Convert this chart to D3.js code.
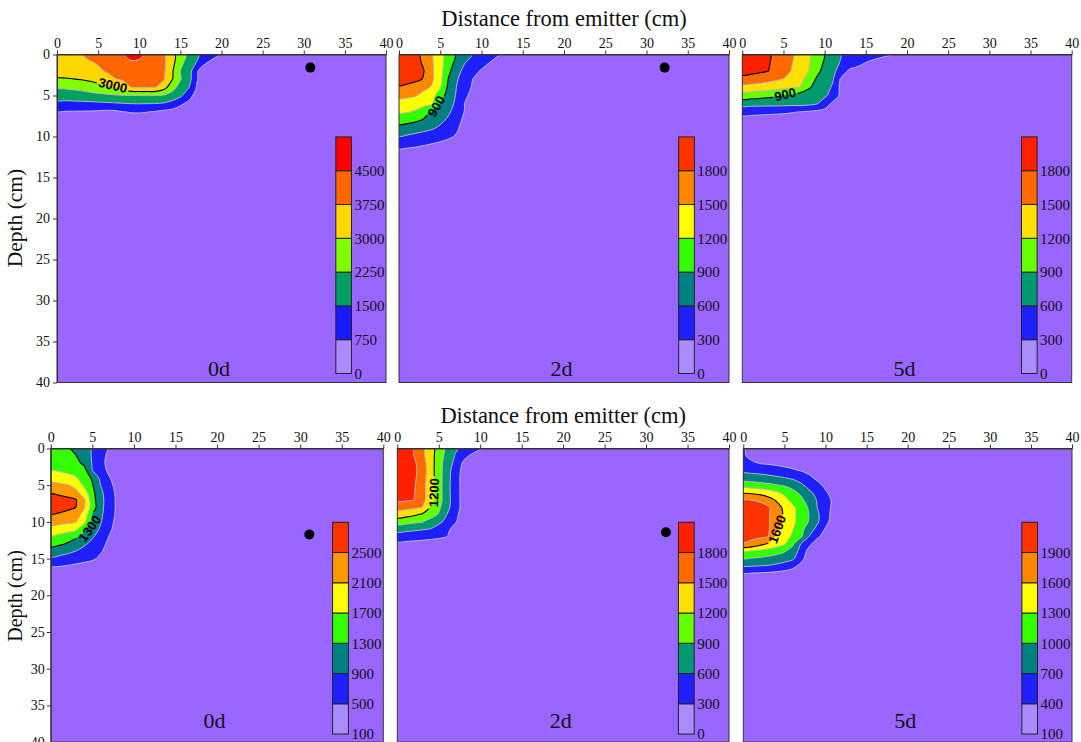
<!DOCTYPE html>
<html><head><meta charset="utf-8">
<script src="https://cdn.jsdelivr.net/npm/d3@7"></script>
<style>body{margin:0;background:#fff}svg{display:block}</style>
</head><body>
<svg id="chart" width="1081" height="742"></svg>
<script>
// ---------------- DATA ----------------
const xTicks = [0,5,10,15,20,25,30,35,40];
const yTicks = [0,5,10,15,20,25,30,35,40];
const panelNames = ["0d","2d","5d","0d","2d","5d"];
const axisTitle = "Distance from emitter (cm)";
const depthTitle = "Depth (cm)";

const levels_top0d = [0,750,1500,2250,3000,3750,4500];
const levels_top2d = [0,300,600,900,1200,1500,1800];
const levels_top5d = [0,300,600,900,1200,1500,1800];
const levels_bot0d = [100,500,900,1300,1700,2100,2500];
const levels_bot2d = [0,300,600,900,1200,1500,1800];
const levels_bot5d = [100,400,700,1000,1300,1600,1900];

// labelled (black) contour levels
const black_top0d = [3000];
const black_top2d = [900,1800];
const black_top5d = [900,1800];
const black_bot0d = [1300,2500];
const black_bot2d = [1200];
const black_bot5d = [1600];

// emitter / sensor dots [distance cm, depth cm]
const dots_top0d = [[30.8,1.6]];
const dots_top2d = [[32.2,1.6]];
const dots_top5d = [];
const dots_bot0d = [[31.1,11.7]];
const dots_bot2d = [[32.4,11.4]];
const dots_bot5d = [];

// field values, rows = depth 0,1,2.. cm ; columns = distance 0,1,2.. cm
const grid_top0d = [
[3600,3650,3700,3720,3900,4050,4200,4350,4470,4620,4600,4400,4100,3850,3200,2700,2050,1700,1000,900,700,500,300],
[3450,3500,3560,3620,3700,3800,3950,4100,4250,4450,4430,4250,4050,3900,3250,2450,1950,1450,800,600,450,350,250],
[3250,3300,3350,3420,3520,3650,3800,3950,4050,4150,4180,4100,3980,3850,3100,2230,1900,800,500,400,300,250,200],
[2920,2950,2990,3050,3150,3300,3500,3720,3850,3950,4000,3980,3900,3800,3050,2300,1800,800,400,300,250,200,150],
[2310,2330,2380,2450,2580,2720,2860,2980,3350,3760,3800,3800,3760,3300,2500,2000,1550,700,350,250,200,150,100],
[1900,1920,1950,1980,2020,2080,2130,2180,2220,2245,2260,2260,2245,2180,2000,1650,1000,500,300,200,150,100,100],
[1250,1260,1280,1300,1320,1350,1380,1420,1460,1495,1510,1495,1480,1420,1200,850,600,400,250,150,100,100,100],
[720,710,700,690,680,640,600,610,730,780,790,760,700,580,520,450,380,300,200,100,100,100,100],
[450,440,430,420,410,400,400,420,460,500,480,450,420,400,350,300,250,200,150,100,100,100,100],
[300,300,290,280,270,260,250,250,260,280,270,250,230,210,200,180,150,120,100,100,100,100,100]
];
const grid_top2d = [
[2050,1980,1880,1710,1519,1292,1071,868,711,574,489,403,317,250,200],
[2050,2000,1900,1756,1533,1296,1043,807,605,500,400,295,230,180,150],
[2050,2000,1920,1810,1550,1300,975,691,517,389,270,200,150,120,100],
[2000,1950,1880,1777,1546,1282,887,626,458,290,220,160,120,100,100],
[1750,1700,1640,1570,1475,1225,831,590,412,260,200,150,100,100,100],
[1570,1550,1520,1422,1291,1050,765,567,344,220,160,120,100,100,100],
[1400,1390,1360,1300,1230,868,711,531,290,200,150,100,100,100,100],
[1240,1220,1155,1005,867,756,644,471,280,200,150,100,100,100,100],
[1015,990,950,879,776,672,547,370,250,180,120,100,100,100,100],
[800,780,740,690,630,544,433,322,230,150,100,100,100,100,100],
[595,560,515,470,420,370,327,282,200,150,100,100,100,100,100],
[400,380,350,315,285,260,240,200,150,100,100,100,100,100,100],
[200,190,180,170,160,150,140,120,100,100,100,100,100,100,100],
[150,150,140,130,120,110,100,100,100,100,100,100,100,100,100]
];
const grid_top5d = [
[2000,1960,1900,1840,1756,1644,1533,1395,1245,1076,895,742,595,548,502,455,408,361,314,260,200,150],
[1980,1940,1880,1830,1748,1633,1517,1379,1236,1050,862,708,573,482,391,295,230,180,150,120,100,100],
[1900,1880,1850,1815,1728,1608,1486,1350,1214,984,809,670,475,250,200,150,120,100,100,100,100,100],
[1710,1690,1650,1600,1550,1495,1389,1278,1118,875,750,625,257,200,150,120,100,100,100,100,100,100],
[1400,1390,1370,1340,1300,1270,1235,1195,943,811,700,565,212,170,130,100,100,100,100,100,100,100],
[1067,1050,1020,980,940,895,850,760,750,700,650,491,220,160,120,100,100,100,100,100,100,100],
[712,705,700,695,695,690,680,690,670,620,462,231,160,120,100,100,100,100,100,100,100,100],
[390,380,370,360,350,340,320,295,270,240,200,160,120,100,100,100,100,100,100,100,100,100],
[200,200,190,180,170,160,150,140,130,120,110,100,100,100,100,100,100,100,100,100,100,100]
];
const grid_bot0d = [
[1450,1420,1350,1200,1033,860,660,460,350,250,150],
[1540,1510,1440,1320,1094,866,637,410,300,200,150],
[1620,1600,1530,1410,1227,875,625,380,280,200,150],
[1690,1670,1610,1560,1450,895,665,430,300,200,150],
[1940,1900,1830,1740,1525,1243,793,527,350,250,150],
[2210,2180,2130,1991,1638,1331,895,604,380,250,150],
[2470,2420,2360,2220,1880,1418,984,671,420,280,150],
[2650,2630,2590,2530,2180,1471,1020,700,430,280,150],
[2620,2600,2570,2510,2150,1529,1009,700,430,280,150],
[2495,2470,2410,2290,1967,1295,967,687,420,280,150],
[2233,2210,2170,2126,1805,1214,929,643,380,250,150],
[1967,1940,1870,1780,1367,1088,847,580,350,230,150],
[1705,1590,1470,1360,1182,947,722,490,300,200,150],
[1414,1360,1269,1115,962,791,609,430,270,180,120],
[1129,1060,980,895,775,650,525,400,250,180,120],
[838,800,750,690,620,550,440,340,230,150,100],
[530,520,480,430,390,350,300,250,180,120,100],
[280,270,260,240,220,200,180,150,120,100,100],
[200,190,180,170,160,150,140,120,100,100,100]
];
const grid_bot2d = [
[2000,1920,1779,1564,1325,1064,825,638,520,420,320,220,150],
[2050,1950,1798,1578,1330,1050,793,580,380,250,170,120,100],
[2080,1980,1860,1642,1343,1024,756,518,250,180,120,100,100],
[2080,1990,1880,1650,1350,1012,738,429,220,150,100,100,100],
[2060,1980,1870,1625,1350,1024,714,420,200,150,100,100,100],
[2040,1960,1840,1615,1342,1026,700,425,200,150,100,100,100],
[2020,1940,1820,1611,1333,1029,706,425,200,150,100,100,100],
[1860,1840,1805,1607,1312,1025,712,425,200,150,100,100,100],
[1615,1600,1560,1495,1179,964,690,425,200,150,100,100,100],
[1350,1310,1250,1159,1023,873,595,369,180,120,100,100,100],
[1033,1000,950,910,787,663,506,319,170,120,100,100,100],
[700,680,650,620,588,468,348,220,150,100,100,100,100],
[460,440,420,400,380,350,305,180,120,100,100,100,100],
[240,230,220,200,180,160,140,120,100,100,100,100,100],
[150,150,140,130,120,110,100,100,100,100,100,100,100]
];
const grid_bot5d = [
[430,300,250,220,200,190,180,170,160,150,140,130,120],
[440,320,290,270,250,230,220,210,200,180,160,140,120],
[480,450,390,370,350,330,310,290,270,250,230,200,150],
[620,610,590,560,520,470,430,390,340,300,260,200,150],
[850,840,820,790,750,710,650,560,450,350,280,200,150],
[1150,1140,1110,1070,1020,970,905,760,600,470,350,250,150],
[1550,1540,1500,1440,1340,1230,1080,940,760,605,430,300,200],
[1895,1890,1850,1720,1570,1400,1200,1080,850,680,500,350,200],
[2050,2040,2010,1940,1730,1530,1360,1170,960,695,512,330,250],
[2060,2050,2020,1940,1750,1563,1375,1188,995,750,515,300,220],
[2060,2050,2020,1940,1740,1547,1370,1180,980,746,480,280,200],
[2050,2040,2010,1950,1660,1474,1316,1092,850,608,370,250,200],
[1980,1970,1950,1915,1545,1410,1260,1060,695,450,280,200,150],
[1880,1820,1700,1565,1450,1335,1067,695,469,250,200,150,120],
[1295,1270,1230,1180,1110,1030,862,600,300,220,150,120,100],
[995,980,955,920,880,830,750,500,250,200,150,100,100],
[727,715,695,680,640,570,470,330,230,150,100,100,100],
[395,390,380,360,340,310,280,240,200,150,100,100,100],
[250,240,230,220,200,180,160,140,120,100,100,100,100]
];

// ---------------- STYLES ----------------
const colors_top0d = ["#9966ff","#1a1aff","#00a060","#80ff00","#ffd700","#ff6600","#ff0000"];
const colors_top2d = ["#9966ff","#2020ff","#008080","#33ff00","#ffff00","#ff8800","#ff3300"];
const colors_top5d = ["#9966ff","#2020ff","#009970","#66ff00","#ffe000","#ff6a00","#ff2000"];
const colors_bot0d = ["#9966ff","#2020ff","#008080","#33ff00","#ffff00","#ff9900","#ff3300"];
const colors_bot2d = ["#9966ff","#2020ff","#009970","#66ff00","#ffe000","#ff6a00","#ff2000"];
const colors_bot5d = ["#9966ff","#2020ff","#008080","#33ff00","#ffff00","#ff8800","#ff3300"];
const cbLowColor = "#ab8cff";
const serif = "'Liberation Serif','Times New Roman',serif";

// layout
const rowsLayout = [
  {y0:54.5, h:328, xs:[57,399,742.3], ws:[329,330,329.4], titleY:26, nameZ:39.2, tickPad:3, ylabY:218, ylabSize:21.5},
  {y0:448.5, h:293.6, xs:[50.8,397.3,743.3], ws:[332.5,331.7,328.7], titleY:423, nameZ:38.1, tickPad:2, ylabY:596, ylabSize:20}
];
const labelLayout = [
  [{text:"3000", x:6.8, z:3.75, a:13}],
  [{text:"900", x:4.5, z:6.3, a:-60}],
  [{text:"900", x:5.2, z:4.85, a:-14}],
  [{text:"1300", x:4.65, z:10.9, a:-55}],
  [{text:"1200", x:4.4, z:6.0, a:-88}],
  [{text:"1600", x:4.1, z:11.0, a:-70}]
];

const panels = [
  {row:0,col:0,levels:levels_top0d,colors:colors_top0d,grid:grid_top0d,black:black_top0d,dots:dots_top0d},
  {row:0,col:1,levels:levels_top2d,colors:colors_top2d,grid:grid_top2d,black:black_top2d,dots:dots_top2d},
  {row:0,col:2,levels:levels_top5d,colors:colors_top5d,grid:grid_top5d,black:black_top5d,dots:dots_top5d},
  {row:1,col:0,levels:levels_bot0d,colors:colors_bot0d,grid:grid_bot0d,black:black_bot0d,dots:dots_bot0d},
  {row:1,col:1,levels:levels_bot2d,colors:colors_bot2d,grid:grid_bot2d,black:black_bot2d,dots:dots_bot2d},
  {row:1,col:2,levels:levels_bot5d,colors:colors_bot5d,grid:grid_bot5d,black:black_bot5d,dots:dots_bot5d}
];

// ---------------- DRAW ----------------
const svg = d3.select("#chart");
const defs = svg.append("defs");
const N = 41;
const lineGen = d3.line().curve(d3.curveCatmullRomClosed.alpha(0.5));

function fullField(grid){
  const fill = d3.min(grid.flat());
  const v = new Array(N*N).fill(fill);
  grid.forEach((row,j)=>row.forEach((val,i)=>{ v[j*N+i]=val; }));
  return v;
}
function geomPath(geom, xs, ys){
  let d = "";
  geom.coordinates.forEach(poly=>poly.forEach(ring=>{
    const pts = ring.slice(0,-1).map(([cx,cy])=>[xs(cx-0.5), ys(cy-0.5)]);
    if (pts.length>2) d += lineGen(pts);
  }));
  return d;
}

rowsLayout.forEach((R,ri)=>{
  svg.append("text").attr("x", (R.xs[1] + R.ws[1]/2)).attr("y", R.titleY)
    .attr("text-anchor","middle").style("font-family",serif).style("font-size","22.5px").attr("fill","#111")
    .text(axisTitle);
  svg.append("text").attr("transform",`translate(22,${R.ylabY}) rotate(-90)`)
    .attr("text-anchor","middle").style("font-family",serif).style("font-size",R.ylabSize+"px").attr("fill","#111")
    .text(depthTitle);
});

panels.forEach((P,pi)=>{
  const R = rowsLayout[P.row];
  const x0 = R.xs[P.col], y0 = R.y0, w = R.ws[P.col], h = R.h;
  const xs = d3.scaleLinear().domain([0,40]).range([0,w]);
  const ys = d3.scaleLinear().domain([0,40]).range([0,h]);
  const g = svg.append("g").attr("transform",`translate(${x0},${y0})`);

  const clipId = "clip"+pi;
  defs.append("clipPath").attr("id",clipId).append("rect").attr("width",w).attr("height",h);

  const plot = g.append("g").attr("clip-path",`url(#${clipId})`);
  plot.append("rect").attr("width",w).attr("height",h).attr("fill",P.colors[0]);

  const values = fullField(P.grid);
  const th = P.levels.slice(1);
  const geoms = d3.contours().size([N,N]).thresholds(th)(values);
  geoms.forEach((gm,k)=>{
    plot.append("path").attr("d",geomPath(gm,xs,ys)).attr("fill",P.colors[k+1]).attr("fill-rule","evenodd");
  });
  geoms.forEach((gm,k)=>{
    if (P.black.includes(gm.value)) return;
    plot.append("path").attr("d",geomPath(gm,xs,ys)).attr("fill","none")
      .attr("stroke","#b8b8b8").attr("stroke-width",1);
  });

  const maskId = "mask"+pi;
  const mask = defs.append("mask").attr("id",maskId).attr("maskUnits","userSpaceOnUse")
    .attr("x",-10).attr("y",-10).attr("width",w+20).attr("height",h+20);
  mask.append("rect").attr("x",-10).attr("y",-10).attr("width",w+20).attr("height",h+20).attr("fill","#fff");
  labelLayout[pi].forEach(L=>{
    const lw = L.text.length*7.6+2;
    mask.append("rect").attr("x",-lw/2).attr("y",-6.5).attr("width",lw).attr("height",13).attr("fill","#000")
      .attr("transform",`translate(${xs(L.x)},${ys(L.z)}) rotate(${L.a})`);
  });
  const blackG = plot.append("g").attr("mask",`url(#${maskId})`);
  geoms.forEach(gm=>{
    if (!P.black.includes(gm.value)) return;
    blackG.append("path").attr("d",geomPath(gm,xs,ys)).attr("fill","none")
      .attr("stroke","#000").attr("stroke-width",1.1);
  });
  labelLayout[pi].forEach(L=>{
    plot.append("text").attr("transform",`translate(${xs(L.x)},${ys(L.z)}) rotate(${L.a})`)
      .attr("text-anchor","middle").attr("dy","0.36em")
      .style("font-family","'Liberation Sans',Arial,sans-serif").style("font-weight","bold").style("font-size","13px")
      .attr("fill","#000").text(L.text);
  });

  plot.selectAll("circle.dot").data(P.dots).enter().append("circle").attr("class","dot")
    .attr("cx",d=>xs(d[0])).attr("cy",d=>ys(d[1])).attr("r",5).attr("fill","#000");

  const cbX0 = 33.9, cbX1 = 35.8, cbTop = 10.05, cbBot = 38.9;
  const bh = (cbBot-cbTop)/P.levels.length;
  P.levels.forEach((lv,k)=>{
    plot.append("rect").attr("x",xs(cbX0)).attr("width",xs(cbX1)-xs(cbX0))
      .attr("y",ys(cbBot-(k+1)*bh)).attr("height",ys(bh)-ys(0))
      .attr("fill",k===0?cbLowColor:P.colors[k]).attr("stroke","#222").attr("stroke-width",1);
    plot.append("text").attr("x",xs(cbX1)+3).attr("y",ys(cbBot-k*bh)).attr("dy","0.35em")
      .style("font-family",serif).style("font-size","15px").attr("fill","#111").text(lv);
  });

  plot.append("text").attr("x",xs(19.7)).attr("y",ys(R.nameZ)).attr("text-anchor","middle")
    .style("font-family",serif).style("font-size","22px").attr("fill","#111").text(panelNames[pi]);

  g.append("rect").attr("width",w).attr("height",h).attr("fill","none").attr("stroke","#333").attr("stroke-width",1);

  const ax = g.append("g").call(d3.axisTop(xs).tickValues(xTicks).tickSize(4).tickSizeOuter(0).tickPadding(3));
  ax.selectAll("text").style("font-family",serif).style("font-size","14px").attr("fill","#111");
  ax.selectAll("line,path").attr("stroke","#333");
  if (P.col===0){
    const ay = g.append("g").call(d3.axisLeft(ys).tickValues(yTicks).tickSize(4).tickSizeOuter(0).tickPadding(R.tickPad));
    ay.selectAll("text").style("font-family",serif).style("font-size","14px").attr("fill","#111");
    ay.selectAll("line,path").attr("stroke","#333");
  }
});
</script>
</body></html>
